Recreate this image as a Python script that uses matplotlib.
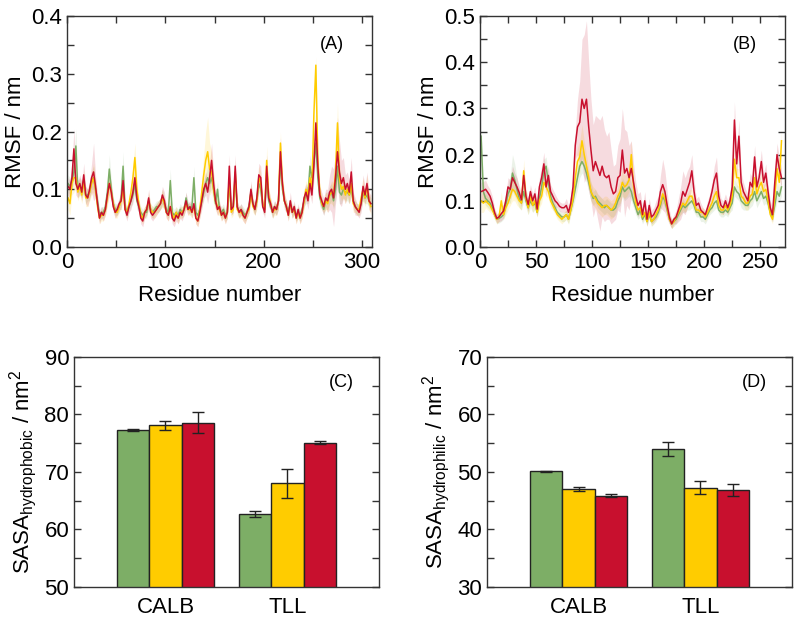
import numpy as np
import matplotlib.pyplot as plt
from matplotlib.ticker import MultipleLocator

plt.rcParams['font.family'] = ['Liberation Sans', 'DejaVu Sans']
plt.rcParams['mathtext.fontset'] = 'custom'
plt.rcParams['mathtext.rm'] = 'Liberation Sans'
plt.rcParams['font.size'] = 16

GREEN = '#7DAE66'
YELLOW = '#FFCC00'
RED = '#C8102E'

# ---- RMSF, panel A (CALB), every second residue, values in 1e-3 nm ----
res_A = np.arange(1, 310, 2)
green_A = [110, 105, 115, 130, 175, 100, 105, 100, 110, 90,
           90, 95, 115, 120, 100, 80, 55, 60, 60, 70,
           95, 135, 100, 75, 65, 65, 70, 85, 140, 70,
           60, 70, 80, 90, 110, 80, 70, 60, 55, 60,
           60, 80, 65, 60, 65, 70, 70, 75, 85, 75,
           65, 60, 115, 60, 55, 60, 55, 65, 60, 65,
           85, 70, 65, 70, 120, 60, 55, 65, 80, 95,
           110, 120, 110, 120, 100, 75, 100, 65, 60, 65,
           55, 60, 110, 65, 70, 120, 70, 60, 65, 60,
           55, 60, 70, 95, 75, 65, 80, 110, 100, 70,
           65, 120, 80, 70, 60, 70, 65, 80, 150, 100,
           80, 70, 60, 75, 60, 65, 55, 60, 55, 65,
           80, 90, 90, 140, 120, 145, 180, 120, 85, 75,
           65, 80, 80, 90, 95, 80, 100, 140, 95, 90,
           100, 95, 95, 90, 100, 80, 70, 65, 65, 75,
           95, 85, 90, 80, 75]
yellow_A = [85, 75, 110, 120, 120, 95, 105, 90, 115, 85,
            85, 95, 110, 120, 100, 70, 50, 55, 55, 65,
            85, 110, 95, 75, 60, 60, 70, 80, 100, 65,
            60, 75, 95, 120, 155, 100, 75, 55, 50, 60,
            65, 80, 65, 60, 60, 65, 70, 75, 85, 75,
            60, 55, 70, 55, 50, 60, 50, 60, 60, 65,
            75, 65, 65, 60, 70, 50, 45, 65, 95, 125,
            150, 165, 135, 130, 100, 80, 70, 65, 55, 60,
            50, 60, 120, 60, 65, 130, 65, 60, 60, 55,
            50, 60, 65, 95, 70, 65, 80, 120, 110, 75,
            65, 150, 90, 75, 60, 65, 65, 80, 180, 110,
            80, 70, 55, 75, 60, 65, 50, 60, 50, 60,
            80, 100, 90, 120, 100, 230, 315, 150, 95, 75,
            70, 80, 75, 90, 95, 90, 130, 215, 120, 100,
            105, 90, 100, 90, 110, 75, 70, 65, 65, 85,
            100, 85, 105, 80, 70]
red_A = [105, 100, 120, 170, 110, 100, 110, 95, 125, 90,
         85, 100, 120, 130, 105, 75, 50, 60, 55, 65,
         90, 110, 95, 70, 60, 65, 75, 80, 115, 65,
         55, 70, 80, 95, 120, 85, 70, 50, 45, 60,
         65, 85, 60, 55, 60, 65, 70, 75, 90, 80,
         60, 55, 70, 50, 45, 55, 50, 60, 55, 65,
         80, 65, 70, 60, 75, 50, 45, 60, 80, 100,
         110, 95, 120, 150, 110, 80, 65, 70, 55, 60,
         50, 60, 140, 65, 70, 140, 70, 60, 65, 55,
         50, 60, 70, 100, 75, 65, 85, 125, 120, 70,
         60, 140, 85, 75, 60, 70, 65, 80, 165, 110,
         80, 70, 55, 80, 60, 70, 50, 65, 50, 60,
         85, 95, 80, 110, 90, 140, 215, 140, 90, 80,
         70, 85, 80, 95, 100, 85, 120, 165, 130, 110,
         120, 100, 110, 95, 130, 80, 70, 65, 60, 75,
         105, 90, 110, 80, 75]
green_A_sd = [15, 15, 15, 20, 30, 15, 15, 15, 15, 15,
              10, 15, 15, 20, 15, 10, 10, 10, 10, 10,
              15, 25, 15, 10, 10, 10, 10, 15, 25, 10,
              10, 10, 10, 15, 15, 15, 10, 10, 10, 10,
              10, 10, 10, 10, 10, 10, 10, 10, 15, 10,
              10, 10, 20, 10, 10, 10, 10, 10, 10, 10,
              10, 10, 10, 10, 20, 10, 10, 10, 10, 15,
              15, 20, 15, 20, 15, 10, 15, 10, 10, 10,
              10, 10, 20, 10, 10, 20, 10, 10, 10, 10,
              10, 10, 10, 15, 10, 10, 10, 15, 15, 10,
              10, 20, 10, 10, 10, 10, 10, 10, 20, 15,
              10, 10, 10, 10, 10, 10, 10, 10, 10, 10,
              10, 15, 15, 20, 20, 25, 30, 20, 15, 10,
              10, 15, 15, 15, 15, 15, 20, 25, 20, 15,
              15, 15, 15, 15, 15, 10, 10, 10, 10, 10,
              15, 10, 15, 10, 10]
yellow_A_sd = [20, 20, 20, 25, 20, 15, 15, 15, 20, 15,
               15, 15, 20, 25, 15, 10, 10, 10, 10, 10,
               15, 20, 15, 10, 10, 10, 10, 15, 20, 10,
               10, 10, 15, 20, 25, 20, 10, 10, 10, 10,
               10, 15, 10, 10, 10, 10, 10, 10, 15, 10,
               10, 10, 10, 10, 10, 10, 10, 10, 10, 10,
               10, 10, 10, 10, 10, 10, 10, 15, 25, 35,
               50, 60, 45, 35, 25, 15, 15, 10, 10, 10,
               10, 10, 20, 10, 10, 20, 10, 10, 10, 10,
               10, 10, 10, 15, 10, 10, 15, 20, 20, 10,
               10, 25, 15, 10, 10, 10, 10, 15, 20, 15,
               10, 10, 10, 10, 10, 10, 10, 10, 10, 10,
               15, 15, 15, 20, 20, 20, 15, 20, 15, 10,
               10, 15, 15, 15, 20, 20, 25, 35, 25, 20,
               20, 15, 15, 15, 20, 15, 10, 10, 10, 15,
               20, 15, 20, 15, 15]
red_A_sd = [15, 15, 20, 35, 20, 15, 15, 15, 20, 15,
            15, 15, 25, 50, 20, 15, 10, 10, 10, 10,
            15, 20, 15, 10, 10, 10, 10, 15, 20, 10,
            10, 10, 15, 15, 20, 15, 10, 10, 10, 10,
            10, 15, 10, 10, 10, 10, 10, 10, 15, 15,
            10, 10, 10, 10, 10, 10, 10, 10, 10, 10,
            15, 10, 10, 10, 10, 10, 10, 10, 15, 15,
            20, 20, 25, 30, 20, 15, 10, 10, 10, 10,
            10, 10, 20, 10, 10, 20, 10, 10, 10, 10,
            10, 10, 10, 15, 10, 10, 15, 20, 20, 10,
            10, 20, 15, 10, 10, 10, 10, 15, 25, 15,
            15, 10, 10, 15, 10, 10, 10, 10, 10, 10,
            15, 15, 15, 20, 15, 25, 30, 20, 15, 15,
            15, 15, 20, 30, 40, 50, 45, 60, 55, 40,
            35, 25, 20, 20, 25, 15, 15, 10, 10, 15,
            20, 15, 20, 15, 15]

# ---- RMSF, panel B (TLL), every second residue, values in 1e-3 nm ----
res_B = np.arange(1, 270, 2)
green_B = [240, 120, 105, 100, 95, 85, 70, 60, 62, 65,
           70, 90, 115, 125, 160, 145, 125, 105, 95, 120,
           100, 85, 100, 90, 95, 75, 105, 130, 165, 175,
           140, 110, 95, 85, 75, 70, 65, 65, 70, 60,
           80, 100, 125, 150, 175, 185, 175, 160, 140, 120,
           105, 110, 100, 95, 90, 85, 90, 85, 80, 80,
           85, 100, 110, 130, 120, 125, 130, 120, 100, 85,
           70, 80, 60, 70, 55, 70, 55, 60, 65, 75,
           90, 110, 100, 80, 60, 50, 55, 60, 70, 80,
           90, 85, 90, 95, 100, 90, 75, 75, 65, 65,
           60, 70, 80, 85, 95, 100, 80, 75, 75, 80,
           75, 85, 95, 130, 120, 115, 100, 95, 90, 90,
           100, 105, 120, 100, 110, 120, 105, 110, 95, 75,
           65, 90, 120, 110, 130]
yellow_B = [100, 95, 100, 95, 90, 80, 70, 60, 65, 100,
            70, 85, 95, 110, 125, 120, 110, 100, 95, 165,
            105, 85, 110, 90, 100, 75, 100, 110, 140, 130,
            120, 100, 90, 80, 70, 65, 60, 65, 70, 60,
            80, 105, 150, 185, 195, 230, 200, 175, 150, 120,
            110, 105, 95, 90, 85, 90, 90, 85, 80, 85,
            95, 110, 120, 140, 130, 135, 145, 200, 130, 95,
            80, 85, 65, 75, 55, 75, 55, 60, 70, 80,
            95, 115, 105, 85, 60, 50, 55, 65, 75, 85,
            95, 90, 100, 110, 110, 95, 80, 80, 75, 75,
            65, 75, 85, 95, 110, 120, 90, 80, 80, 90,
            80, 90, 110, 190, 150, 150, 110, 105, 95, 95,
            110, 115, 150, 115, 130, 140, 120, 125, 100, 70,
            60, 110, 170, 140, 230]
red_B = [120, 122, 125, 118, 110, 95, 75, 62, 65, 72,
         78, 100, 130, 125, 150, 140, 130, 118, 102, 155,
         110, 92, 120, 100, 115, 82, 130, 150, 180, 130,
         155, 120, 110, 100, 95, 88, 85, 85, 90, 75,
         95, 130, 220, 260, 270, 320, 300, 320, 260, 210,
         165, 185, 170, 155, 175, 155, 150, 155, 130, 115,
         120, 150, 155, 210, 160, 170, 150, 170, 140, 110,
         90, 100, 70, 100, 60, 90, 65, 70, 80, 90,
         120, 135, 120, 90, 65, 50, 60, 65, 80, 95,
         120, 110, 125, 140, 165, 120, 90, 95, 80, 75,
         70, 85, 100, 120, 145, 160, 110, 90, 85, 100,
         85, 100, 130, 275, 180, 240, 140, 120, 110, 100,
         140, 130, 195, 130, 150, 185, 140, 160, 120, 85,
         70, 140, 200, 170, 150]
green_B_sd = [30, 20, 15, 15, 15, 10, 10, 10, 10, 10,
              10, 15, 20, 30, 40, 35, 25, 20, 15, 20,
              15, 15, 15, 15, 15, 10, 15, 20, 25, 20,
              20, 15, 15, 10, 10, 10, 10, 10, 10, 10,
              10, 15, 20, 25, 25, 25, 25, 20, 20, 20,
              15, 15, 15, 15, 15, 15, 15, 15, 15, 15,
              15, 15, 20, 20, 20, 20, 20, 20, 15, 15,
              10, 15, 10, 10, 10, 10, 10, 10, 10, 10,
              15, 15, 15, 10, 10, 10, 10, 10, 10, 10,
              15, 10, 10, 15, 15, 15, 10, 10, 10, 10,
              10, 10, 10, 10, 15, 15, 10, 10, 10, 10,
              10, 10, 15, 20, 15, 15, 15, 15, 10, 10,
              15, 15, 15, 15, 15, 15, 15, 15, 15, 10,
              10, 15, 20, 15, 20]
yellow_B_sd = [25, 20, 15, 15, 15, 10, 10, 10, 10, 20,
               10, 15, 15, 20, 25, 20, 20, 15, 15, 25,
               15, 15, 15, 15, 15, 10, 15, 15, 20, 20,
               15, 15, 10, 10, 10, 10, 10, 10, 10, 10,
               10, 15, 25, 30, 35, 35, 30, 25, 20, 20,
               20, 20, 20, 20, 20, 20, 20, 20, 20, 20,
               20, 20, 25, 30, 25, 25, 25, 30, 20, 15,
               10, 15, 10, 10, 10, 10, 10, 10, 10, 15,
               15, 20, 15, 15, 10, 10, 10, 10, 10, 15,
               15, 15, 15, 15, 15, 15, 10, 10, 10, 10,
               10, 10, 10, 15, 15, 15, 15, 10, 10, 10,
               10, 15, 15, 30, 20, 20, 15, 15, 15, 15,
               15, 15, 20, 15, 15, 20, 15, 15, 15, 10,
               10, 15, 25, 20, 25]
red_B_sd = [20, 20, 20, 15, 15, 15, 10, 10, 10, 15,
            15, 15, 20, 20, 25, 20, 20, 15, 15, 20,
            15, 15, 15, 15, 15, 15, 20, 25, 25, 20,
            20, 15, 15, 15, 10, 10, 10, 10, 15, 15,
            15, 20, 30, 60, 90, 130, 160, 170, 140, 110,
            100, 100, 110, 120, 110, 100, 90, 95, 80, 60,
            60, 70, 80, 90, 95, 80, 70, 60, 40, 30,
            25, 20, 15, 20, 15, 15, 15, 15, 20, 20,
            35, 55, 45, 30, 15, 10, 10, 15, 25, 35,
            45, 40, 40, 35, 35, 25, 15, 15, 15, 10,
            10, 15, 15, 20, 30, 35, 20, 15, 15, 15,
            15, 15, 20, 40, 30, 35, 20, 20, 15, 15,
            20, 20, 25, 20, 20, 25, 20, 20, 15, 15,
            15, 20, 25, 25, 20]

# ---- SASA bars ----
enzymes = ['CALB', 'TLL']
hphob_green = [77.3, 62.7]
hphob_green_err = [0.1, 0.5]
hphob_yellow = [78.1, 68.0]
hphob_yellow_err = [0.8, 2.5]
hphob_red = [78.6, 75.1]
hphob_red_err = [1.8, 0.25]
hphil_green = [50.1, 54.0]
hphil_green_err = [0.1, 1.3]
hphil_yellow = [47.0, 47.3]
hphil_yellow_err = [0.35, 1.05]
hphil_red = [45.9, 46.8]
hphil_red_err = [0.3, 1.05]


def style_axes(ax):
    ax.tick_params(which='both', direction='in', top=True, right=True,
                   length=5, width=1, color='#333333', labelsize=16)
    for s in ax.spines.values():
        s.set_linewidth(1)
        s.set_color('#333333')


def rmsf_panel(ax, res, lines, sds, xmax, ymax, xmaj, tag):
    for vals, sd, col in zip(lines, sds, [GREEN, YELLOW, RED]):
        v = np.array(vals) / 1000
        s = np.array(sd) / 1000
        ax.fill_between(res, v - s, v + s, color=col, alpha=0.15, lw=0)
    for vals, col in zip(lines, [GREEN, YELLOW, RED]):
        ax.plot(res, np.array(vals) / 1000, color=col, lw=1.1)
    ax.set_xlim(0, xmax)
    ax.set_ylim(0, ymax)
    ax.xaxis.set_major_locator(MultipleLocator(xmaj))
    ax.xaxis.set_minor_locator(MultipleLocator(xmaj / 2))
    ax.yaxis.set_major_locator(MultipleLocator(0.1))
    ax.yaxis.set_minor_locator(MultipleLocator(0.05))
    ax.yaxis.set_major_formatter(plt.FormatStrFormatter('%.1f'))
    ax.set_xlabel('Residue number', fontsize=16, labelpad=9)
    ax.set_ylabel('RMSF / nm', fontsize=16)
    ax.text(0.87, 0.875, tag, transform=ax.transAxes, fontsize=13,
            ha='center', va='center')
    style_axes(ax)


def bar_panel(ax, vals, errs, ylim, ylabel, tag):
    x = np.arange(len(enzymes))
    w = 0.265
    for i, (v, e, col) in enumerate(zip(vals, errs, [GREEN, YELLOW, RED])):
        ax.bar(x + (i - 1) * w, v, w, yerr=e, color=col, edgecolor='#222222',
               linewidth=1, capsize=4,
               error_kw=dict(elinewidth=1, capthick=1, ecolor='#222222'))
    ax.set_xlim(-0.75, 1.75)
    ax.set_ylim(*ylim)
    ax.set_xticks(x)
    ax.set_xticklabels(enzymes)
    ax.yaxis.set_major_locator(MultipleLocator(10))
    ax.yaxis.set_minor_locator(MultipleLocator(5))
    ax.set_ylabel(ylabel, fontsize=16)
    ax.text(0.878, 0.888, tag, transform=ax.transAxes, fontsize=13,
            ha='center', va='center')
    style_axes(ax)
    ax.tick_params(axis='x', which='both', length=0, pad=7)


fig = plt.figure(figsize=(7.94, 6.19), dpi=100)
axA = fig.add_axes([0.0844, 0.601, 0.384, 0.373])
axB = fig.add_axes([0.6045, 0.601, 0.384, 0.373])
axC = fig.add_axes([0.0932, 0.0517, 0.384, 0.3716])
axD = fig.add_axes([0.6134, 0.0517, 0.384, 0.3716])

rmsf_panel(axA, res_A, [green_A, yellow_A, red_A],
           [green_A_sd, yellow_A_sd, red_A_sd], 310, 0.4, 100, '(A)')
rmsf_panel(axB, res_B, [green_B, yellow_B, red_B],
           [green_B_sd, yellow_B_sd, red_B_sd], 272, 0.5, 50, '(B)')

bar_panel(axC, [hphob_green, hphob_yellow, hphob_red],
          [hphob_green_err, hphob_yellow_err, hphob_red_err], (50, 90),
          r'SASA$_{\mathregular{hydrophobic}}$ / nm$^{\mathregular{2}}$', '(C)')
bar_panel(axD, [hphil_green, hphil_yellow, hphil_red],
          [hphil_green_err, hphil_yellow_err, hphil_red_err], (30, 70),
          r'SASA$_{\mathregular{hydrophilic}}$ / nm$^{\mathregular{2}}$', '(D)')

fig.savefig('out.png', dpi=100)
